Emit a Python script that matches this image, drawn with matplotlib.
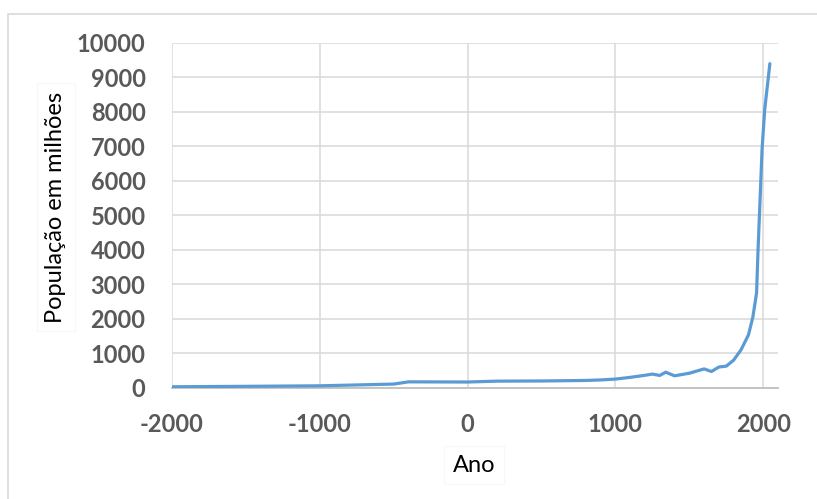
import matplotlib.pyplot as plt
from matplotlib.patches import Rectangle

plt.rcParams['axes.unicode_minus'] = False

# Dados (ano, população em milhões)
anos = [-2000, -1500, -1000, -500, -400, 0, 200, 500, 800, 900, 1000, 1100,
        1200, 1250, 1300, 1340, 1400, 1500, 1600, 1650, 1700, 1750, 1800,
        1850, 1900, 1930, 1955, 1965, 1976, 1992, 2010, 2045]
populacao = [27, 40, 55, 105, 170, 165, 190, 195, 210, 225, 250, 300,
             360, 395, 355, 450, 345, 420, 545, 470, 600, 625, 800,
             1100, 1530, 2050, 2750, 4000, 5170, 6900, 8070, 9400]

x_ticks = [-2000, -1000, 0, 1000, 2000]
y_ticks = list(range(0, 10001, 1000))

W, H = 817, 499
fig = plt.figure(figsize=(W / 100, H / 100), dpi=100)
fig.patch.set_facecolor('white')

# Moldura clara do gráfico (estilo Excel)
fig.patches.append(Rectangle((8 / W, -0.1), 1.2, 1.1 - 14 / H,
                             transform=fig.transFigure, fill=False,
                             edgecolor='#D9D9D9', linewidth=1.2))

ax = fig.add_axes([172 / W, 1 - 387.7 / H, (778 - 172) / W, (387.7 - 43) / H])

ax.plot(anos, populacao, color='#5B9BD5', linewidth=2.3,
        solid_capstyle='round', solid_joinstyle='round', zorder=3)

ax.set_xlim(-2000, 2100)
ax.set_ylim(0, 10000)
ax.set_xticks(x_ticks)
ax.set_yticks(y_ticks)

ax.grid(True, color='#D9D9D9', linewidth=1.1)
ax.set_axisbelow(True)
for s in ['top', 'right', 'left']:
    ax.spines[s].set_visible(False)
ax.spines['bottom'].set_color('#BFBFBF')
ax.spines['bottom'].set_linewidth(1.3)
ax.spines['bottom'].set_zorder(2)

ax.tick_params(length=0, labelsize=17, labelcolor='#595959')
ax.tick_params(axis='y', pad=19)
ax.tick_params(axis='x', pad=18)
for lab in ax.get_xticklabels() + ax.get_yticklabels():
    lab.set_fontfamily('Lato')
    lab.set_fontweight('bold')

box = dict(facecolor='white', edgecolor='#F7F7F7', linewidth=0.8, pad=6)
ax.set_xlabel('Ano', fontsize=17, fontfamily='Lato', color='black', bbox=box)
ax.xaxis.set_label_coords((474 - 172) / 606, (387.7 - 465) / 344.7)
ax.xaxis.label.set_va('center')

ax.set_ylabel('População em milhões', fontsize=17, fontfamily='Lato',
              color='black', bbox=box)
ax.yaxis.set_label_coords((56 - 172) / 606, (387.7 - 207) / 344.7)
ax.yaxis.label.set_va('center')
ax.yaxis.label.set_ha('center')

fig.savefig('out.png', dpi=100)
